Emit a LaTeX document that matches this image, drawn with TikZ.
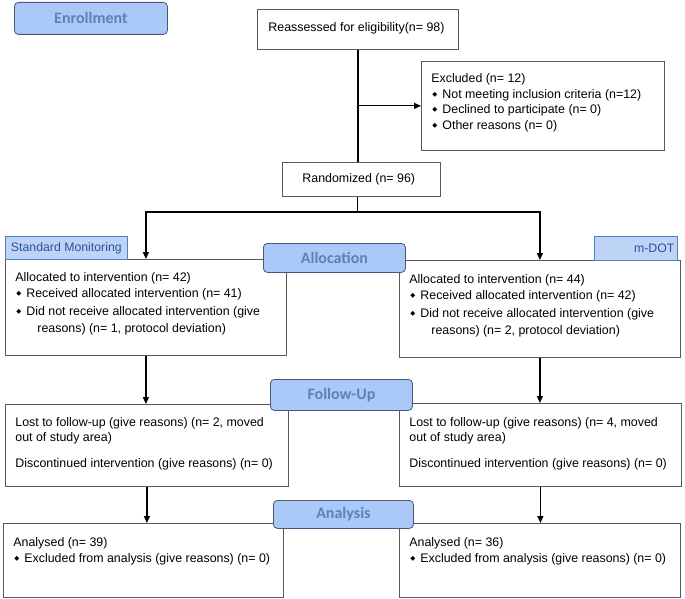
\documentclass[tikz,border=0pt]{standalone}
\usepackage{fontspec}
\setmainfont{Liberation Sans}
\newfontfamily\phasefont{Carlito}
\newfontfamily\dejavu{DejaVu Sans}
\usetikzlibrary{arrows.meta}
\definecolor{boxgray}{RGB}{90,90,90}
\definecolor{phasefill}{RGB}{170,200,248}
\definecolor{phaseedge}{RGB}{75,88,115}
\definecolor{phasetext}{RGB}{95,128,185}
\definecolor{armfill}{RGB}{190,212,247}
\definecolor{armedge}{RGB}{80,128,205}
\definecolor{armtext}{RGB}{42,82,150}
\newcommand{\bl}{\makebox[11pt][l]{\hspace*{1pt}\raisebox{0.3ex}{\dejavu\fontsize{6.5}{7}\selectfont ◆}}}
\newcommand{\boxtext}[4]{\parbox[c][#2pt][t]{#1pt}{\vspace*{#3pt}\leftskip=10pt\rightskip=0pt plus 1fil\parindent=0pt\fontsize{12.4}{16.5}\selectfont #4\par}}
\tikzset{
  box/.style={draw=boxgray, line width=0.8pt, fill=white, anchor=north west, inner sep=0pt},
  phase/.style={draw=phaseedge, line width=0.8pt, fill=phasefill, rounded corners=4pt, anchor=north west,
    inner sep=0pt, text=phasetext, font=\phasefont\bfseries\fontsize{16}{18}\selectfont},
  arm/.style={draw=armedge, line width=0.7pt, fill=armfill, anchor=north west, inner sep=0pt,
    text=armtext, font=\fontsize{12.3}{14}\selectfont},
  conn/.style={line width=1.2pt, black},
  arr/.style={conn, -{Triangle[length=7pt,width=6pt]}}
}
\begin{document}
\begin{tikzpicture}[x=1pt,y=-1pt]
\useasboundingbox (0,0) rectangle (685,599);
% boxes
\node[box] (reassess) at (257,9) {\boxtext{201}{40}{13}{\hspace*{1pt}Reassessed for eligibility(n= 98)}};
\node[box] (excl) at (421,61) {\boxtext{243}{89}{12}{Excluded (n= 12)\\[-0.8pt]
\bl Not meeting inclusion criteria (n=12)\\[-0.8pt]
\bl Declined to participate (n= 0)\\[-0.8pt]
\bl Other reasons (n= 0)}};
\node[box] (rand) at (282,162) {\boxtext{158}{34}{11.5}{\hspace*{10pt}Randomized (n= 96)}};
\node[box] (allocL) at (5,259) {\boxtext{281}{96}{13}{Allocated to intervention (n= 42)\\[0pt]
\bl Received allocated intervention (n= 41)\\[1.5pt]
\bl Did not receive allocated intervention (give\\[0pt]
\hspace*{22pt}reasons) (n= 1, protocol deviation)}};
\node[box] (allocR) at (399,260) {\boxtext{281}{97}{14}{Allocated to intervention (n= 44)\\[0pt]
\bl Received allocated intervention (n= 42)\\[1.5pt]
\bl Did not receive allocated intervention (give\\[0pt]
\hspace*{22pt}reasons) (n= 2, protocol deviation)}};
\node[box] (followL) at (5,404) {\boxtext{283}{82}{13}{Lost to follow-up (give reasons) (n= 2, moved\\[-1.5pt]
out of study area)\\[9.5pt]
Discontinued intervention (give reasons) (n= 0)}};
\node[box] (followR) at (399,403) {\boxtext{282}{83}{14}{Lost to follow-up (give reasons) (n= 4, moved\\[-1.5pt]
out of study area)\\[9.5pt]
Discontinued intervention (give reasons) (n= 0)}};
\node[box] (analL) at (3,523) {\boxtext{280}{74}{14}{Analysed (n= 39)\\[-0.5pt]
\bl Excluded from analysis (give reasons) (n= 0)}};
\node[box] (analR) at (399,523) {\boxtext{281}{74}{14}{Analysed (n= 36)\\[-0.5pt]
\bl Excluded from analysis (give reasons) (n= 0)}};
% connectors
\coordinate (split) at (357.5,212);
\draw[conn] (reassess.south) -- (reassess.south |- rand.north);
\draw[arr] (reassess.south |- excl.west) -- (excl.west);
\draw[conn] (rand.south -| split) -- (split);
\draw[arr] (split) -| (allocL.north);
\draw[arr] (split) -| (allocR.north);
\draw[arr] (allocL.south) -- (allocL.south |- followL.north);
\draw[arr] (allocR.south) -- (allocR.south |- followR.north);
\draw[arr] (followL.south) -- (followL.south |- analL.north);
\draw[arr] (followR.south) -- (followR.south |- analR.north);
% phase labels
\node[phase, minimum width=153pt, minimum height=32pt] (enroll) at (14,2) {Enrollment};
\node[phase, minimum width=142pt, minimum height=29pt] (allocation) at (263,243) {Allocation};
\node[phase, minimum width=142pt, minimum height=31pt] (followup) at (270,379) {Follow-Up};
\node[phase, minimum width=140pt, minimum height=28pt] (analysis) at (273,500) {Analysis};
% arm labels
\node[arm, minimum width=122pt, minimum height=23pt] (std) at (5,236) {Standard Monitoring};
\node[arm, minimum width=83pt, minimum height=24pt, text width=77pt, align=right] (mdot) at (594,236) {m-DOT};
\end{tikzpicture}
\end{document}
